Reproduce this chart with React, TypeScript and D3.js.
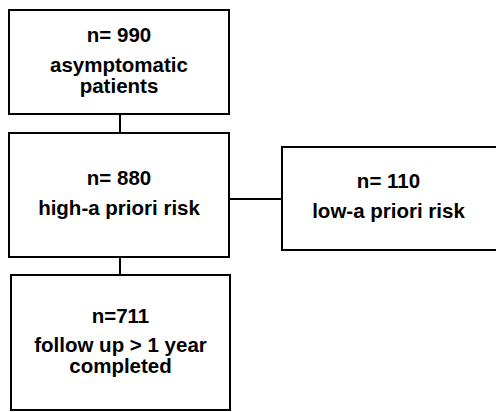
import * as d3 from 'd3'
import { useEffect, useRef } from 'react'

// node counts and captions of the flowchart
const counts = ['n= 990', 'n= 880', 'n= 110', 'n=711']
const captions = [
    ['asymptomatic', 'patients'],
    ['high-a priori risk'],
    ['low-a priori risk'],
    ['follow up > 1 year', 'completed'],
]
// which node connects to which
const links: [number, number][] = [[0, 1], [1, 2], [1, 3]]

const W = 496
const H = 412

export default function App() {
    const svgRef = useRef<SVGSVGElement>(null)

    useEffect(() => {
        const svg = d3.select(svgRef.current)
        svg.selectAll('*').remove()

        // layout of the boxes (x0,y0,x1,y1), baseline of first text line
        const boxes = [
            { x0: 9, y0: 10, x1: 229, y1: 114, top: 42, gap: 30 },
            { x0: 9, y0: 133, x1: 229, y1: 257, top: 185, gap: 30 },
            { x0: 282, y0: 147, x1: 497, y1: 250, top: 188, gap: 30 },
            { x0: 11, y0: 275, x1: 230, y1: 410, top: 323, gap: 29 },
        ]
        const nodes = counts.map((c, i) => ({ count: c, caption: captions[i], ...boxes[i] }))
        const font = '"Liberation Sans", Arial, sans-serif'
        const fs = '20.5px'

        const g = svg.append('g')

        // connectors
        g.selectAll('line.link')
            .data(links)
            .join('line')
            .attr('class', 'link')
            .each(function ([a, b]) {
                const s = nodes[a], t = nodes[b]
                const el = d3.select(this)
                if (t.y0 > s.y1) {
                    const x = (s.x0 + s.x1) / 2 + 1
                    el.attr('x1', x).attr('x2', x).attr('y1', s.y1).attr('y2', t.y0)
                } else {
                    const y = 199
                    el.attr('x1', s.x1).attr('x2', t.x0).attr('y1', y).attr('y2', y)
                }
            })
            .attr('stroke', '#000')
            .attr('stroke-width', 2)

        const node = g.selectAll('g.node')
            .data(nodes)
            .join('g')
            .attr('class', 'node')

        node.append('rect')
            .attr('x', d => d.x0)
            .attr('y', d => d.y0)
            .attr('width', d => d.x1 - d.x0)
            .attr('height', d => d.y1 - d.y0)
            .attr('fill', '#fff')
            .attr('stroke', '#000')
            .attr('stroke-width', 2)

        const cx = (d: any, i: number) => (d.x0 + (i === 2 ? 495 : d.x1)) / 2

        node.append('text')
            .attr('x', (d, i) => cx(d, i))
            .attr('y', d => d.top)
            .attr('text-anchor', 'middle')
            .style('font-family', font)
            .style('font-weight', 'bold')
            .style('font-size', fs)
            .attr('fill', '#000')
            .text(d => d.count)

        node.each(function (d, i) {
            d3.select(this).selectAll('text.cap')
                .data(d.caption)
                .join('text')
                .attr('class', 'cap')
                .attr('x', cx(d, i))
                .attr('y', (_, k) => d.top + d.gap + k * 21)
                .attr('text-anchor', 'middle')
                .style('font-family', font)
                .style('font-weight', 'bold')
                .style('font-size', fs)
                .attr('fill', '#000')
                .text(t => t)
        })
    }, [])

    return (
        <svg ref={svgRef} width={W} height={H}
            style={{ position: 'absolute', left: 0, top: 0, background: '#fff' }} />
    )
}
